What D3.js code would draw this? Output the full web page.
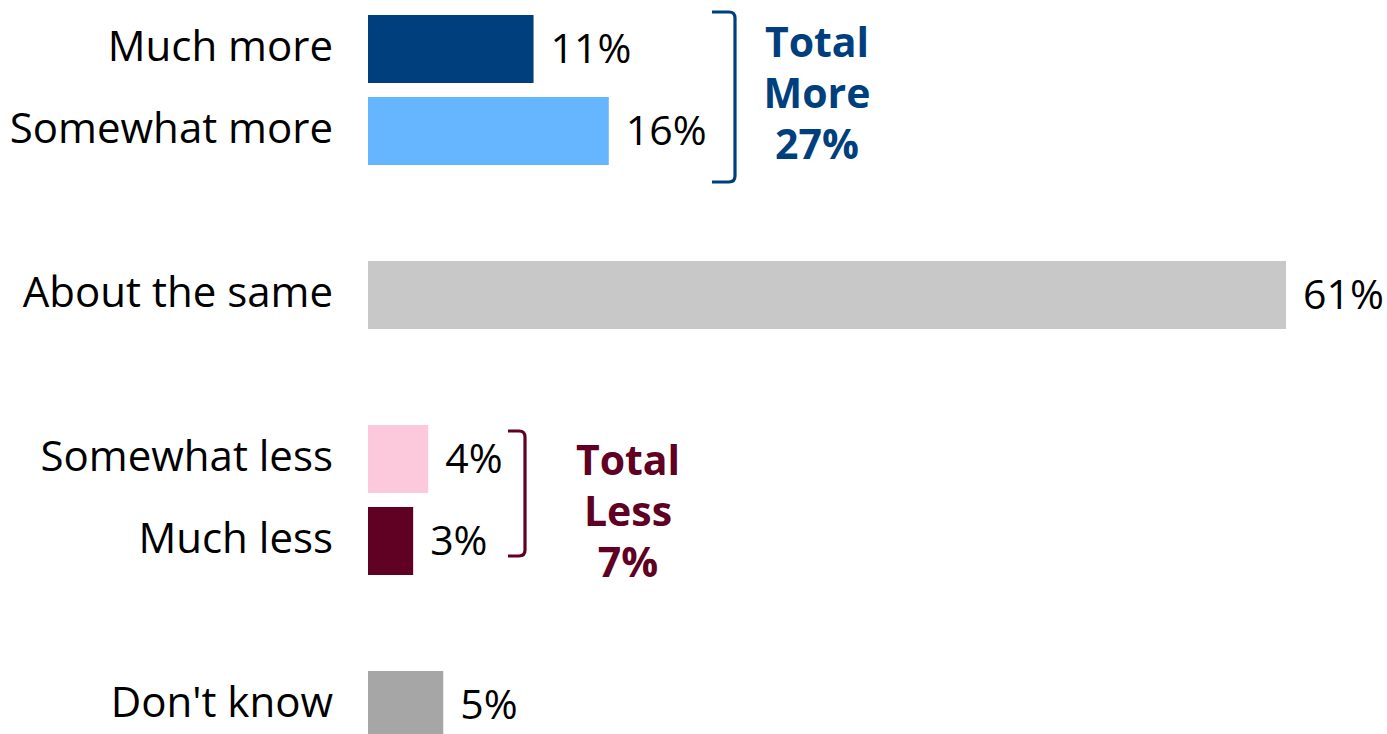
<!DOCTYPE html>
<html>
<head>
<meta charset="utf-8">
<script src="https://cdn.jsdelivr.net/npm/d3@7"></script>
<style>
  body { margin: 0; background: #fff; }
  text { font-family: "Open Sans", sans-serif; }
</style>
</head>
<body>
<div id="chart"></div>
<script>
// datos del grafico
const categories = ["Much more", "Somewhat more", "", "About the same", "", "Somewhat less", "Much less", "", "Don't know"];
const values = [11, 16, null, 61, null, 4, 3, null, 5];
const barColors = ["#003f7d", "#66b5ff", null, "#c8c8c8", null, "#fbc8dc", "#600022", null, "#a6a6a6"];

// grupos con corchete
const groups = [
  { name: ["Total", "More"], rows: [0, 1], color: "#003f7d" },
  { name: ["Total", "Less"], rows: [5, 6], color: "#600022" }
];

const width = 1387, height = 734;

const svg = d3.select("#chart").append("svg")
  .attr("width", width)
  .attr("height", height);

// escalas
const slots = d3.range(categories.length);
const yScale = d3.scaleBand()
  .domain(slots)
  .range([8, 746])
  .paddingInner(14 / 82)
  .paddingOuter(7 / 82);

const xScale = d3.scaleLinear()
  .domain([0, 61])
  .range([368, 1286]);

const rows = slots.filter(i => values[i] !== null);

// barras
svg.selectAll("rect.bar")
  .data(rows)
  .enter()
  .append("rect")
  .attr("class", "bar")
  .attr("x", xScale(0))
  .attr("y", i => yScale(i))
  .attr("width", i => xScale(values[i]) - xScale(0))
  .attr("height", yScale.bandwidth())
  .attr("fill", i => barColors[i]);

// etiquetas de categoria
svg.selectAll("text.cat")
  .data(rows)
  .enter()
  .append("text")
  .attr("class", "cat")
  .attr("x", 333)
  .attr("y", i => yScale(i) + yScale.bandwidth() / 2)
  .attr("dy", "0.29em")
  .attr("text-anchor", "end")
  .style("font-size", "42px")
  .style("fill", "#000")
  .text(i => categories[i]);

// etiquetas de valores
svg.selectAll("text.val")
  .data(rows)
  .enter()
  .append("text")
  .attr("class", "val")
  .attr("x", i => xScale(values[i]) + 17)
  .attr("y", i => yScale(i) + yScale.bandwidth() / 2)
  .attr("dy", "0.33em")
  .style("font-size", "41px")
  .style("fill", "#000")
  .text(i => values[i] + "%");

// corchetes y totales
const bracketSpec = [
  { right: 735, top: yScale(0) - 3, bottom: yScale(1) + yScale.bandwidth() + 17, textX: 817, textY: 57 },
  { right: 525, top: yScale(5) + 6, bottom: yScale(6) + yScale.bandwidth() - 19, textX: 628, textY: 475 }
];

groups.forEach((g, k) => {
  const b = bracketSpec[k];
  const w = k === 0 ? 23 : 17;
  const r = 6;
  const path = d3.path();
  path.moveTo(b.right - w, b.top);
  path.lineTo(b.right - r, b.top);
  path.quadraticCurveTo(b.right, b.top, b.right, b.top + r);
  path.lineTo(b.right, b.bottom - r);
  path.quadraticCurveTo(b.right, b.bottom, b.right - r, b.bottom);
  path.lineTo(b.right - w, b.bottom);

  svg.append("path")
    .attr("d", path.toString())
    .attr("fill", "none")
    .attr("stroke", g.color)
    .attr("stroke-width", 3.2);

  const total = d3.sum(g.rows, i => values[i]);
  const lines = g.name.concat([total + "%"]);
  const t = svg.append("text")
    .attr("x", b.textX)
    .attr("y", b.textY)
    .attr("text-anchor", "middle")
    .style("font-size", "41px")
    .style("font-weight", "bold")
    .style("fill", g.color);
  lines.forEach((line, j) => {
    t.append("tspan")
      .attr("x", b.textX)
      .attr("dy", j === 0 ? 0 : 51)
      .text(line);
  });
});
</script>
</body>
</html>
